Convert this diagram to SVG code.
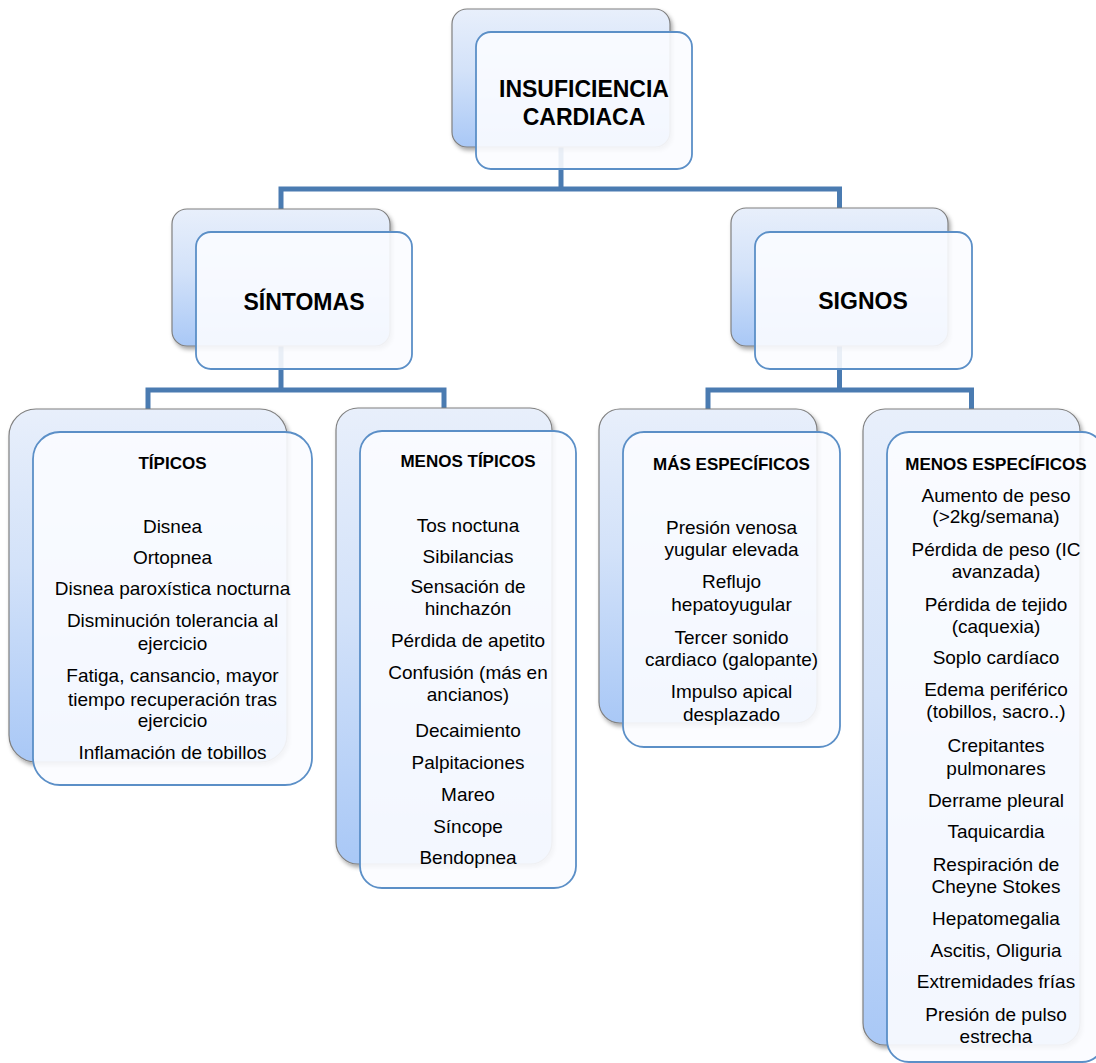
<svg xmlns="http://www.w3.org/2000/svg" width="1096" height="1063" viewBox="0 0 1096 1063">
<style>
.back{fill:url(#gb);stroke:#808080;stroke-width:1.2;filter:url(#sh)}
.front{fill:#fbfcff;fill-opacity:0.9;stroke:#5b8fc7;stroke-width:1.8}
.conn{fill:none;stroke:#4a7bb1;stroke-width:5;stroke-linejoin:miter;stroke-linecap:butt}
text{font-family:"Liberation Sans",Arial,sans-serif;fill:#000;text-anchor:middle}
.h1{font-size:23px;font-weight:bold}
.h2{font-size:17px;font-weight:bold}
.b{font-size:19px}
</style>
<defs>
<linearGradient id="gb" x1="0" y1="0" x2="0" y2="1">
<stop offset="0" stop-color="#e8effb"/>
<stop offset="0.45" stop-color="#d3e2f9"/>
<stop offset="1" stop-color="#a9c8f6"/>
</linearGradient>
<filter id="sh" x="-10%" y="-10%" width="125%" height="125%">
<feDropShadow dx="2" dy="3" stdDeviation="2" flood-color="#000" flood-opacity="0.35"/>
</filter>
</defs>
<rect width="1096" height="1063" fill="#fff"/>
<g id="connectors">
<path class="conn" d="M561,147 V189"/>
<path class="conn" d="M281,209 V189 H839.5 V208"/>
<path class="conn" d="M281,346 V390"/>
<path class="conn" d="M148,409 V390 H444 V408"/>
<path class="conn" d="M839.5,346 V390"/>
<path class="conn" d="M708,409 V390 H971.5 V409"/>
</g>
<g id="n-insuficiencia">
<rect class="back" x="452" y="9" width="218" height="138" rx="15"/>
<rect class="front" x="476" y="32" width="216" height="137" rx="15"/>
<text class="h1" x="584" y="97">INSUFICIENCIA</text>
<text class="h1" x="584" y="125">CARDIACA</text>
</g>
<g id="n-sintomas">
<rect class="back" x="172" y="209" width="218" height="137" rx="15"/>
<rect class="front" x="196" y="232" width="216" height="137" rx="15"/>
<text class="h1" x="304" y="310">SÍNTOMAS</text>
</g>
<g id="n-signos">
<rect class="back" x="731" y="208" width="217" height="138" rx="15"/>
<rect class="front" x="755" y="232" width="217" height="137" rx="15"/>
<text class="h1" x="863" y="309">SIGNOS</text>
</g>
<g id="n-tipicos">
<rect class="back" x="9" y="409" width="278" height="353" rx="27"/>
<rect class="front" x="33" y="432" width="279" height="353" rx="27"/>
<text class="h2" x="172.5" y="469">TÍPICOS</text>
<text class="b" x="172.5" y="533">Disnea</text>
<text class="b" x="172.5" y="564">Ortopnea</text>
<text class="b" x="172.5" y="595">Disnea paroxística nocturna</text>
<text class="b" x="172.5" y="627">Disminución tolerancia al</text>
<text class="b" x="172.5" y="650">ejercicio</text>
<text class="b" x="172.5" y="682">Fatiga, cansancio, mayor</text>
<text class="b" x="172.5" y="706">tiempo recuperación tras</text>
<text class="b" x="172.5" y="727">ejercicio</text>
<text class="b" x="172.5" y="759">Inflamación de tobillos</text>
</g>
<g id="n-menos-tipicos">
<rect class="back" x="336" y="408" width="216" height="456" rx="22"/>
<rect class="front" x="360" y="431" width="216" height="457" rx="22"/>
<text class="h2" x="468" y="467">MENOS TÍPICOS</text>
<text class="b" x="468" y="532">Tos noctuna</text>
<text class="b" x="468" y="563">Sibilancias</text>
<text class="b" x="468" y="593">Sensación de</text>
<text class="b" x="468" y="615">hinchazón</text>
<text class="b" x="468" y="647">Pérdida de apetito</text>
<text class="b" x="468" y="679">Confusión (más en</text>
<text class="b" x="468" y="701">ancianos)</text>
<text class="b" x="468" y="737">Decaimiento</text>
<text class="b" x="468" y="769">Palpitaciones</text>
<text class="b" x="468" y="801">Mareo</text>
<text class="b" x="468" y="833">Síncope</text>
<text class="b" x="468" y="864">Bendopnea</text>
</g>
<g id="n-mas-especificos">
<rect class="back" x="599" y="409" width="218" height="314" rx="21"/>
<rect class="front" x="623" y="432" width="217" height="315" rx="21"/>
<text class="h2" x="731.5" y="470">MÁS ESPECÍFICOS</text>
<text class="b" x="731.5" y="534">Presión venosa</text>
<text class="b" x="731.5" y="556">yugular elevada</text>
<text class="b" x="731.5" y="588">Reflujo</text>
<text class="b" x="731.5" y="611">hepatoyugular</text>
<text class="b" x="731.5" y="644">Tercer sonido</text>
<text class="b" x="731.5" y="666">cardiaco (galopante)</text>
<text class="b" x="731.5" y="698">Impulso apical</text>
<text class="b" x="731.5" y="721">desplazado</text>
</g>
<g id="n-menos-especificos">
<rect class="back" x="863" y="409" width="217" height="636" rx="22"/>
<rect class="front" x="887" y="432" width="217" height="630" rx="22"/>
<text class="h2" x="996" y="470">MENOS ESPECÍFICOS</text>
<text class="b" x="996" y="502">Aumento de peso</text>
<text class="b" x="996" y="523">(&gt;2kg/semana)</text>
<text class="b" x="996" y="556">Pérdida de peso (IC</text>
<text class="b" x="996" y="578">avanzada)</text>
<text class="b" x="996" y="611">Pérdida de tejido</text>
<text class="b" x="996" y="633">(caquexia)</text>
<text class="b" x="996" y="664">Soplo cardíaco</text>
<text class="b" x="996" y="696">Edema periférico</text>
<text class="b" x="996" y="718">(tobillos, sacro..)</text>
<text class="b" x="996" y="752">Crepitantes</text>
<text class="b" x="996" y="775">pulmonares</text>
<text class="b" x="996" y="807">Derrame pleural</text>
<text class="b" x="996" y="838">Taquicardia</text>
<text class="b" x="996" y="871">Respiración de</text>
<text class="b" x="996" y="893">Cheyne Stokes</text>
<text class="b" x="996" y="925">Hepatomegalia</text>
<text class="b" x="996" y="957">Ascitis, Oliguria</text>
<text class="b" x="996" y="988">Extremidades frías</text>
<text class="b" x="996" y="1021">Presión de pulso</text>
<text class="b" x="996" y="1043">estrecha</text>
</g>
</svg>
